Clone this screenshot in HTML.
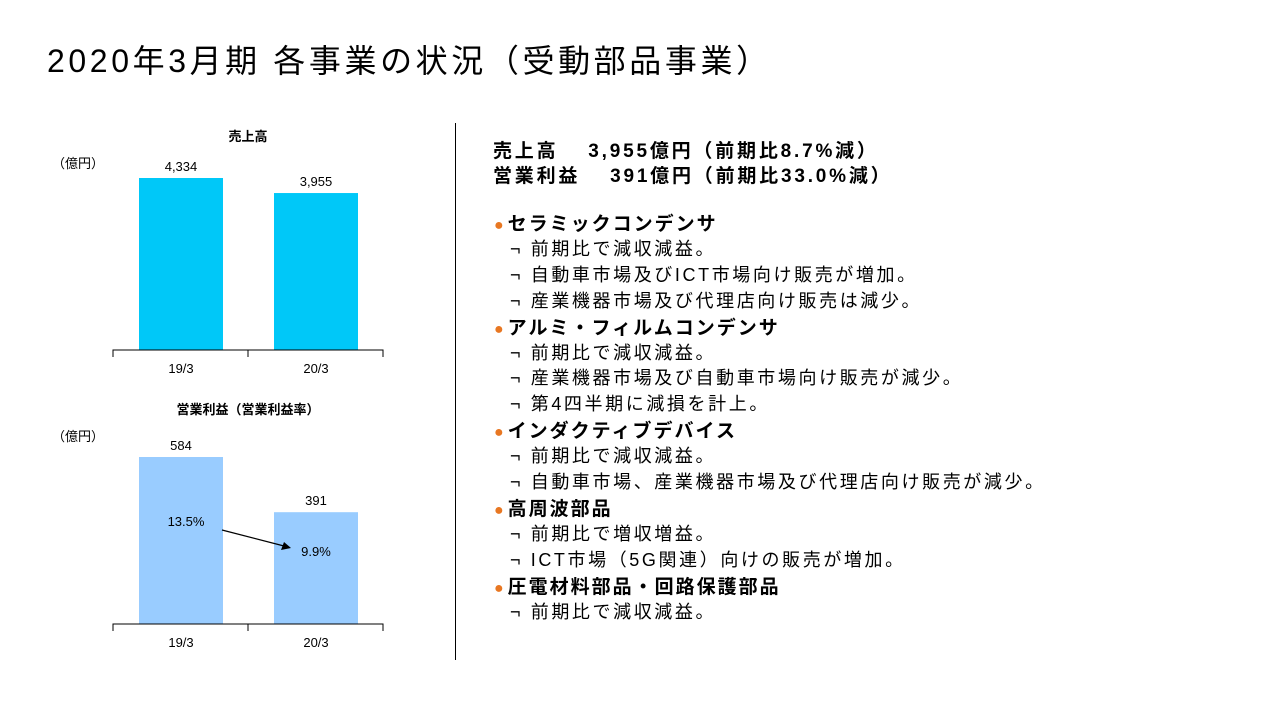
<!DOCTYPE html>
<html><head><meta charset="utf-8"><style>
body{margin:0;width:1281px;height:720px;background:#fff;overflow:hidden;font-family:"Liberation Sans","Noto Sans CJK JP",sans-serif;color:#000;position:relative}
.t{position:absolute;white-space:nowrap}
#title{left:47px;top:36px;font-size:32px;letter-spacing:3.6px}
.rt{left:493px;font-size:19px;font-weight:bold;letter-spacing:2.8px}
.h{left:494px;font-size:19px;font-weight:bold;letter-spacing:2px}
.h .dot{color:#e87722;font-size:16px;margin-right:4px;letter-spacing:0}
.s{left:510px;font-size:18px;letter-spacing:2.6px}
</style></head><body>
<div class="t" id="title">2020年3月期 各事業の状況（受動部品事業）</div>
<svg width="460" height="720" style="position:absolute;left:0;top:0" id="charts"></svg>
<div style="position:absolute;left:455px;top:123px;width:1px;height:537px;background:#000"></div>
<div class="t rt" style="top:136px">売上高　 3,955億円（前期比8.7%減）</div>
<div class="t rt" style="top:161px">営業利益　 391億円（前期比33.0%減）</div>
<div id="list"></div>
<script>
const cats=["19/3","20/3"];
const sales=[4334,3955];
const salesLabels=["4,334","3,955"];
const profit=[584,391];
const profitLabels=["584","391"];
const margin=["13.5%","9.9%"];
const NS="http://www.w3.org/2000/svg";
const svg=document.getElementById('charts');
function el(t,a,txt){const e=document.createElementNS(NS,t);for(const k in a)e.setAttribute(k,a[k]);if(txt!==undefined)e.textContent=txt;svg.appendChild(e);return e;}
function chart(title,titleY,base,scale,vals,labels,color,prefix){
  const x=i=>181+i*135;
  const y=v=>base-v*scale;
  let e=el('text',{x:248,y:titleY,'text-anchor':'middle','font-size':13,'font-weight':'bold'},title);
  
  
  e=el('text',{x:52,y:titleY+27,'font-size':13},'（億円）');
  
  
  vals.forEach((v,i)=>{
    const b=el('rect',{x:x(i)-42,y:y(v),width:84,height:base-y(v),fill:color});
    
    
    const l=el('text',{x:x(i),y:y(v)-7,'text-anchor':'middle','font-size':13},labels[i]);
    
    
    const c=el('text',{x:x(i),y:base+23,'text-anchor':'middle','font-size':13},cats[i]);
    
    
  });
  const a=el('path',{d:`M113 ${base+7}V${base}H383V${base+7}M248 ${base}V${base+7}`,stroke:'#000',fill:'none','stroke-width':1});
  
  
  return {x,y};
}
chart('売上高',141,350,172/4334,sales,salesLabels,'#00c8f8','sales');
const p=chart('営業利益（営業利益率）',414,624,167/584,profit,profitLabels,'#99ccff','profit');
let m=el('text',{x:186,y:526,'text-anchor':'middle','font-size':13},margin[0]);


m=el('text',{x:316,y:556,'text-anchor':'middle','font-size':13},margin[1]);


let ar=el('line',{x1:222,y1:530,x2:284,y2:546,stroke:'#000','stroke-width':1.3});


ar=el('path',{d:'M291 548 L281 550 L284 542 Z',fill:'#000'});



const items=[
 ['h','セラミックコンデンサ'],['s','前期比で減収減益。'],['s','自動車市場及びICT市場向け販売が増加。'],['s','産業機器市場及び代理店向け販売は減少。'],
 ['h','アルミ・フィルムコンデンサ'],['s','前期比で減収減益。'],['s','産業機器市場及び自動車市場向け販売が減少。'],['s','第4四半期に減損を計上。'],
 ['h','インダクティブデバイス'],['s','前期比で減収減益。'],['s','自動車市場、産業機器市場及び代理店向け販売が減少。'],
 ['h','高周波部品'],['s','前期比で増収増益。'],['s','ICT市場（5G関連）向けの販売が増加。'],
 ['h','圧電材料部品・回路保護部品'],['s','前期比で減収減益。']
];
const list=document.getElementById('list');
items.forEach((it,i)=>{
  const d=document.createElement('div');
  d.className='t '+it[0];
  d.style.top=(209+i*25.9)+'px';
  if(it[0]==='h'){d.innerHTML='<span class="dot">●</span>'+it[1];}
  else{d.textContent='¬ '+it[1];}
  
  list.appendChild(d);
});
</script>
</body></html>
